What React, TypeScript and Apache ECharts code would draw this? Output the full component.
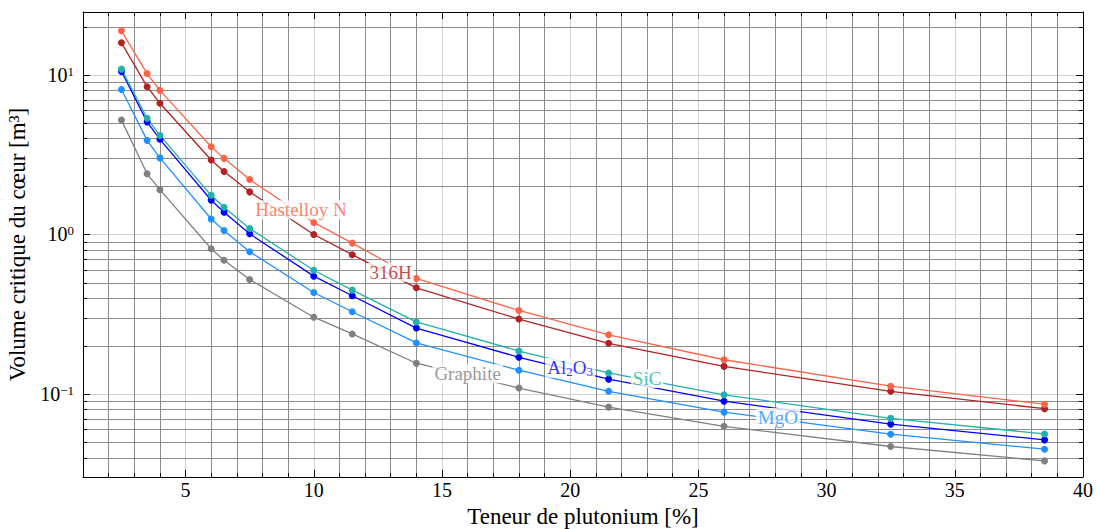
import React, { useEffect, useRef } from 'react';
import * as echarts from 'echarts';

// ---- data ----
const teneur = [2.5, 3.5, 4, 6, 6.5, 7.5, 10, 11.5, 14, 18, 21.5, 26, 32.5, 38.5];
const hastelloyN = [18.9, 10.2, 8.0, 3.55, 3.0, 2.21, 1.19, 0.883, 0.53, 0.334, 0.235, 0.164, 0.112, 0.0864];
const h316 = [15.9, 8.44, 6.64, 2.93, 2.48, 1.85, 1.0, 0.747, 0.463, 0.295, 0.208, 0.149, 0.104, 0.0809];
const sic = [10.87, 5.35, 4.18, 1.76, 1.48, 1.09, 0.597, 0.448, 0.283, 0.186, 0.1355, 0.0989, 0.0704, 0.0562];
const al2o3 = [10.5, 5.08, 3.95, 1.64, 1.38, 1.01, 0.548, 0.413, 0.259, 0.17, 0.124, 0.0902, 0.0648, 0.0516];
const mgo = [8.1, 3.89, 3.02, 1.25, 1.06, 0.78, 0.433, 0.328, 0.209, 0.141, 0.104, 0.077, 0.056, 0.0451];
const graphite = [5.21, 2.4, 1.91, 0.814, 0.689, 0.522, 0.303, 0.238, 0.156, 0.109, 0.0828, 0.0628, 0.0469, 0.0381];

const seriesNames = ['Graphite', 'MgO', 'Al2O3', 'SiC', '316H', 'Hastelloy N'];
const seriesValues = [graphite, mgo, al2o3, sic, h316, hastelloyN];
const seriesColors = ['#808080', '#1e90ff', '#0000ff', '#20b2aa', '#b22222', '#ff6347'];

// inline labels (data coordinates)
const labelNames = ['Hastelloy N', '316H', 'Al2O3', 'SiC', 'MgO', 'Graphite'];
const labelX = [9.5, 13, 20, 23, 28.1, 16];
const labelY = [1.43, 0.58, 0.146, 0.125, 0.0714, 0.134];
const labelColors = ['#ff6347', '#b22222', '#0000ff', '#20b2aa', '#1e90ff', '#808080'];

// axis ranges
const xMin = 1;
const xMax = 40;
const yMin = 0.0302;
const yMax = 24.8;
const minorYValues = [0.04, 0.05, 0.06, 0.07, 0.08, 0.09, 0.2, 0.3, 0.4, 0.5, 0.6, 0.7, 0.8, 0.9, 2, 3, 4, 5, 6, 7, 8, 9, 20];

const FONT = "'Liberation Serif', 'DejaVu Serif', serif";
const MAJOR_GRID = '#d0d0d0';
const MINOR_GRID = '#8c8c8c';

function powLabel(v: number): string {
  const e = Math.round(Math.log10(v));
  if (Math.abs(v - Math.pow(10, e)) > 1e-6 * v) return '';
  const s = (e < 0 ? '\u2212' : '') + Math.abs(e);
  return '{b|10}{s|' + s + '}';
}

export default function App() {
  const ref = useRef<HTMLDivElement>(null);
  useEffect(() => {
    const chart = echarts.init(ref.current!, null, { renderer: 'svg' });

    const lineSeries = seriesNames.map((name, i) => ({
      name,
      type: 'line',
      xAxisIndex: 0,
      yAxisIndex: 0,
      z: 3,
      data: teneur.map((x, j) => [x, seriesValues[i][j]]),
      symbol: 'circle',
      symbolSize: 7,
      showSymbol: true,
      lineStyle: { color: seriesColors[i], width: 1.3 },
      itemStyle: { color: seriesColors[i] },
      silent: true,
    }));

    const baseText = { fontFamily: FONT, fontSize: 19, backgroundColor: '#fff', padding: [0, 2] };

    const labelData = labelNames.map((n, i) => {
      const lbl: any = {
        show: true,
        position: 'inside',
        color: labelColors[i],
        ...baseText,
        formatter: n,
      };
      if (n === 'Al2O3') {
        lbl.formatter = '{m|Al}{sub|2}{m|O}{sub|3}';
        lbl.rich = {
          m: { fontFamily: FONT, fontSize: 19, lineHeight: 20, color: labelColors[i], verticalAlign: 'top' },
          sub: { fontFamily: FONT, fontSize: 13, lineHeight: 13, color: labelColors[i], verticalAlign: 'bottom', padding: [10, 0, 0, 0] },
        };
      }
      return { value: [labelX[i], labelY[i]], label: lbl };
    });

    const option: any = {
      animation: false,
      backgroundColor: '#fff',
      grid: { left: 83, right: 14, top: 12, bottom: 52, containLabel: false, outerBoundsMode: 'none' },
      xAxis: [
        {
          type: 'value',
          position: 'bottom',
          min: xMin,
          max: xMax,
          splitNumber: 8,
          axisLine: { show: true, onZero: false, lineStyle: { color: '#000', width: 1 } },
          axisTick: { show: true, inside: true, length: 7, lineStyle: { color: '#000', width: 1 } },
          minorTick: { show: true, splitNumber: 5, length: 4, lineStyle: { color: '#000', width: 1 } },
          splitLine: { show: true, lineStyle: { color: MAJOR_GRID, width: 1 } },
          minorSplitLine: { show: true, lineStyle: { color: MINOR_GRID, width: 1 } },
          axisLabel: {
            show: true,
            margin: 3,
            color: '#000',
            fontFamily: FONT,
            fontSize: 20,
            showMinLabel: false,
            formatter: (v: number) => (Math.abs(v % 5) < 1e-9 ? String(v) : ''),
          },
          name: 'Teneur de plutonium [%]',
          nameLocation: 'middle',
          nameGap: 21,
          nameTextStyle: { fontFamily: FONT, fontSize: 23, color: '#000' },
        },
        {
          type: 'value',
          position: 'top',
          min: xMin,
          max: xMax,
          splitNumber: 8,
          axisLine: { show: true, onZero: false, lineStyle: { color: '#000', width: 1 } },
          axisTick: { show: true, inside: true, length: 7, lineStyle: { color: '#000', width: 1 } },
          minorTick: { show: true, splitNumber: 5, length: 4, lineStyle: { color: '#000', width: 1 } },
          splitLine: { show: false },
          axisLabel: { show: false },
        },
      ],
      yAxis: [
        {
          type: 'log',
          logBase: 10,
          position: 'left',
          min: yMin,
          max: yMax,
          axisLine: { show: true, onZero: false, lineStyle: { color: '#000', width: 1 } },
          axisTick: { show: true, inside: true, length: 7, lineStyle: { color: '#000', width: 1 } },
          splitLine: { show: true, lineStyle: { color: MAJOR_GRID, width: 1 } },
          axisLabel: {
            show: true,
            margin: 9,
            color: '#000',
            formatter: powLabel,
            rich: {
              b: { fontFamily: FONT, fontSize: 20, lineHeight: 20, color: '#000', verticalAlign: 'bottom', padding: [2, 0, 0, 0] },
              s: { fontFamily: FONT, fontSize: 13, lineHeight: 13, color: '#000', verticalAlign: 'top' },
            },
          },
          name: 'Volume critique du c\u0153ur [m\u00b3]',
          nameLocation: 'middle',
          nameGap: 47,
          nameTextStyle: { fontFamily: FONT, fontSize: 23, color: '#000' },
        },
        {
          type: 'log',
          logBase: 10,
          position: 'right',
          min: yMin,
          max: yMax,
          axisLine: { show: true, onZero: false, lineStyle: { color: '#000', width: 1 } },
          axisTick: { show: true, inside: true, length: 7, lineStyle: { color: '#000', width: 1 } },
          splitLine: { show: false },
          axisLabel: { show: false },
        },
      ],
      series: [
        {
          type: 'custom',
          name: 'minorGrid',
          xAxisIndex: 0,
          yAxisIndex: 0,
          z: 1,
          silent: true,
          clip: false,
          data: minorYValues.map((v) => [xMin, v]),
          renderItem: (params: any, api: any) => {
            const v = api.value(1);
            const a = api.coord([xMin, v]);
            const b = api.coord([xMax, v]);
            const y = Math.round(a[1]) + 0.5;
            return {
              type: 'group',
              children: [
                { type: 'line', shape: { x1: a[0], y1: y, x2: b[0], y2: y }, style: { stroke: MINOR_GRID, lineWidth: 1 } },
                { type: 'line', shape: { x1: a[0], y1: y, x2: a[0] + 4, y2: y }, style: { stroke: '#000', lineWidth: 1 } },
                { type: 'line', shape: { x1: b[0] - 4, y1: y, x2: b[0], y2: y }, style: { stroke: '#000', lineWidth: 1 } },
              ],
            };
          },
        },
        ...lineSeries,
        {
          type: 'scatter',
          name: 'labels',
          xAxisIndex: 0,
          yAxisIndex: 0,
          z: 10,
          silent: true,
          symbolSize: 1,
          itemStyle: { color: 'rgba(0,0,0,0)' },
          data: labelData,
        },
      ],
    };

    chart.setOption(option);
    return () => chart.dispose();
  }, []);

  return (
    <div
      ref={ref}
      style={{ position: 'fixed', left: 0, top: 0, width: 1097, height: 529, background: '#fff' }}
    />
  );
}
